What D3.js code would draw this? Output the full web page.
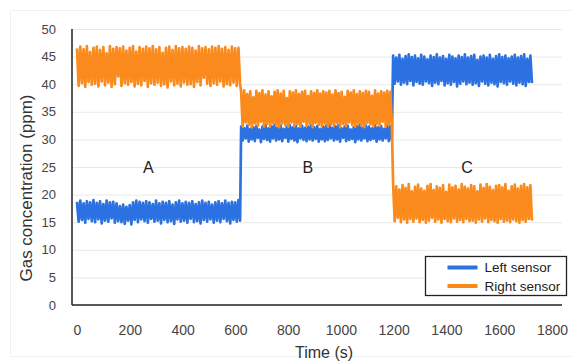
<!DOCTYPE html>
<html>
<head>
<meta charset="utf-8">
<script src="https://cdn.jsdelivr.net/npm/d3@7/dist/d3.min.js"></script>
<style>
html,body{margin:0;padding:0;background:#fff;}
svg{display:block;font-family:"Liberation Sans",Arial,sans-serif;}
</style>
</head>
<body>
<svg id="chart" width="572" height="362"></svg>
<script>
// ---- data ----
const seriesNames = ["Left sensor", "Right sensor"];
const seriesColors = ["#2c71e1", "#fb8a1d"];
// phase boundaries (s): start, end of each phase
const phaseStart = [0, 622, 1198];
const phaseEnd = [618, 1193, 1724];
const phaseLabels = ["A", "B", "C"];
const phaseLabelTime = [270, 875, 1478];
const phaseLabelValue = 25;

const leftA = [
18.7,15.1,18.9,15.4,18.4,14.9,18.8,15.6,18.6,15.2,
19.0,15.0,18.5,15.5,18.8,14.8,18.3,15.3,18.9,15.1,
18.6,15.7,18.7,14.9,18.4,15.2,17.9,15.0,18.2,14.7,
17.8,15.3,18.1,14.6,18.6,15.4,18.9,15.0,18.7,15.5,
18.5,15.2,18.8,14.9,18.6,15.6,18.3,15.1,18.9,15.3,
18.4,14.8,18.7,15.4,18.5,15.0,18.8,15.2,18.2,14.7,
18.6,15.5,18.9,15.1,18.4,15.3,18.7,14.9,18.5,15.6,
18.8,15.0,18.3,15.2,18.6,14.8,18.9,15.4,18.5,15.1,
18.7,15.5,18.2,14.9,18.6,15.3,18.8,15.0,18.4,15.6,
18.9,15.2,18.5,14.8,18.7,15.4,18.6,15.1,19.0,15.3];
const leftB = [
32.3,29.8,32.0,30.2,32.5,29.6,31.9,30.0,32.2,29.7,
32.4,30.3,31.8,29.5,32.3,30.1,32.6,29.9,32.0,29.6,
32.4,30.2,32.7,29.8,32.1,30.0,32.5,29.7,31.9,30.3,
32.3,29.6,32.6,30.1,32.2,29.8,32.4,29.5,32.0,30.2,
32.5,29.9,32.1,29.7,32.3,30.0,32.6,29.8,32.2,30.1,
32.4,29.6,31.9,30.0,32.3,29.7,32.5,29.9,32.8,30.2,
32.1,29.8,32.4,30.0,32.6,29.6,32.0,30.3,32.3,29.7,
32.5,29.9,31.8,30.1,32.2,29.5,32.4,30.0,32.7,29.8,
32.1,30.2,32.5,29.7,32.3,29.9,32.0,30.1,32.6,29.6,
32.2,30.0,32.4,29.8,31.9,30.2,32.5,29.7,32.3,29.9];
const leftC = [
45.2,40.1,44.8,40.5,45.3,39.9,44.6,40.3,45.1,40.0,
45.4,40.6,44.9,39.8,45.2,40.4,44.7,40.1,45.3,39.9,
45.0,40.5,44.5,40.2,45.2,39.7,44.9,40.3,45.4,40.0,
44.8,40.6,45.1,39.8,44.6,40.2,45.3,39.9,45.0,40.4,
44.7,39.6,45.2,40.1,44.9,40.5,45.4,40.0,44.8,40.3,
45.1,39.9,45.3,40.2,44.4,39.7,45.0,40.5,45.2,40.1,
44.8,39.8,45.3,40.3,44.6,40.0,45.1,39.6,45.4,40.4,
44.9,40.2,45.2,39.9,44.7,40.5,45.0,40.1,45.3,39.8,
44.8,40.3,45.1,40.0,45.4,39.7,44.6,40.4,45.2,40.2];
const rightA = [
46.5,39.7,46.8,40.2,46.3,39.5,46.9,40.4,45.8,39.9,
46.6,40.1,46.8,39.6,46.2,40.5,46.7,39.8,45.6,40.3,
46.9,39.5,46.4,40.0,46.7,41.4,46.5,39.7,46.8,40.2,
46.1,39.9,46.6,40.4,46.9,39.6,45.9,40.1,46.7,39.8,
46.4,40.6,46.8,39.5,46.5,40.2,46.9,39.9,46.3,40.3,
46.7,39.7,45.7,40.0,46.6,39.4,46.8,40.5,46.2,39.8,
46.9,40.1,46.5,39.6,46.7,40.3,46.4,39.9,46.8,40.0,
46.6,39.5,46.1,40.4,46.9,39.8,46.5,41.2,46.7,40.1,
46.3,39.7,46.8,40.2,46.6,39.9,46.9,40.5,46.4,39.6,
46.7,40.0,46.2,39.8,46.8,40.3,46.5,39.7,46.6,40.1];
const rightB = [
38.6,32.4,38.9,33.1,38.2,32.6,38.7,32.2,37.6,32.9,
38.8,32.5,38.4,33.2,38.9,32.3,38.1,32.8,38.7,32.4,
37.8,33.0,38.6,32.5,38.9,32.2,38.3,32.9,38.8,32.6,
37.5,32.3,38.7,33.1,38.5,32.4,38.9,32.7,38.2,32.3,
38.6,33.2,38.8,32.5,37.9,32.8,38.7,32.2,38.4,33.0,
38.9,32.6,38.3,32.4,38.7,32.9,38.5,32.3,38.8,32.7,
38.1,32.5,38.9,33.0,38.4,32.2,38.6,32.8,37.7,32.4,
38.8,33.1,38.5,32.6,38.9,32.3,38.2,32.9,38.7,32.5,
38.4,32.2,38.8,33.0,38.6,32.7,37.9,32.4,38.9,32.8,
38.3,32.5,38.7,33.2,38.5,32.3,38.8,32.6,38.6,32.9];
const rightC = [
21.8,15.2,21.5,15.8,20.9,15.0,21.7,15.5,21.2,14.9,
21.9,15.6,20.6,15.1,21.4,15.7,21.8,15.0,21.1,15.4,
20.7,14.9,21.6,15.3,21.9,15.8,20.8,15.1,21.5,15.5,
21.2,14.9,21.7,15.6,20.5,15.2,21.8,15.0,21.3,15.7,
21.6,15.1,20.9,15.4,21.9,15.0,21.4,15.6,21.1,15.2,
21.7,15.3,21.5,14.9,20.6,15.5,21.8,15.1,21.2,15.7,
21.9,15.0,21.4,15.4,20.8,15.2,21.6,14.9,21.7,15.6,
21.3,15.1,21.9,15.3,20.7,15.0,21.5,15.5,21.8,15.2,
21.1,14.9,21.6,15.4,21.9,15.1,21.3,15.6,21.7,15.3];

const xTicks = [0,200,400,600,800,1000,1200,1400,1600,1800];
const yTicks = [0,5,10,15,20,25,30,35,40,45,50];
const xTitle = "Time (s)";
const yTitle = "Gas concentration (ppm)";

// ---- build series ----
function buildSeries(segments){
  const pts = [];
  segments.forEach((vals, k) => {
    const n = vals.length;
    vals.forEach((v, i) => {
      pts.push({t: phaseStart[k] + (phaseEnd[k]-phaseStart[k]) * i/(n-1), v: v});
    });
  });
  return pts;
}
const series = [buildSeries([leftA,leftB,leftC]), buildSeries([rightA,rightB,rightC])];

// ---- layout ----
const svg = d3.select("#chart");
const plotLeft = 72, plotRight = 562, plotTop = 29, plotBottom = 305;
const x = d3.scaleLinear().domain([0,1800]).range([77,552]);
const y = d3.scaleLinear().domain([0,50]).range([plotBottom, plotTop]);

// faint outer frame
svg.append("rect").attr("x",10.5).attr("y",10.5).attr("width",570).attr("height",346)
  .attr("fill","none").attr("stroke","#f1f1f1");

// gridlines
svg.append("g").selectAll("line").data(yTicks.filter(d=>d>0)).join("line")
  .attr("x1",plotLeft).attr("x2",plotRight)
  .attr("y1",d=>y(d)+0.5).attr("y2",d=>y(d)+0.5)
  .attr("stroke","#e9e9e9").attr("stroke-width",1);

// y tick labels (axis)
const yAxis = d3.axisLeft(y).tickValues(yTicks).tickSize(0).tickPadding(0).tickFormat(d3.format("d"));
const gy = svg.append("g").attr("transform",`translate(56,0)`).call(yAxis);
gy.select(".domain").remove();
gy.selectAll("text").attr("font-size",13).attr("fill","#444").attr("font-family","Liberation Sans, Arial, sans-serif");

// x tick labels (axis)
const xAxis = d3.axisBottom(x).tickValues(xTicks).tickSize(0).tickPadding(0).tickFormat(d3.format("d"));
const gx = svg.append("g").attr("transform",`translate(0,325)`).call(xAxis);
gx.select(".domain").remove();
gx.selectAll("text").attr("font-size",14).attr("fill","#444").attr("font-family","Liberation Sans, Arial, sans-serif");

// series lines
const line = d3.line().x(d=>x(d.t)).y(d=>y(d.v));
series.forEach((s,i)=>{
  svg.append("path").datum(s).attr("d",line)
    .attr("fill","none").attr("stroke",seriesColors[i])
    .attr("stroke-width",2.7).attr("stroke-linejoin","round");
});

// axis lines
svg.append("line").attr("x1",plotLeft).attr("x2",plotLeft).attr("y1",plotTop).attr("y2",plotBottom)
  .attr("stroke","#222").attr("stroke-width",1.5);
svg.append("line").attr("x1",plotLeft).attr("x2",plotRight).attr("y1",plotBottom).attr("y2",plotBottom)
  .attr("stroke","#222").attr("stroke-width",1.5);

// phase labels
svg.append("g").selectAll("text").data(phaseLabels).join("text")
  .attr("x",(d,i)=>x(phaseLabelTime[i])).attr("y",y(phaseLabelValue)).attr("dy","0.35em")
  .attr("text-anchor","middle").attr("font-size",16).attr("fill","#222").text(d=>d);

// axis titles
svg.append("text").attr("x",(plotLeft+plotRight)/2+7).attr("y",358)
  .attr("text-anchor","middle").attr("font-size",16).attr("fill","#333").text(xTitle);
svg.append("text").attr("transform",`translate(32,188) rotate(-90)`)
  .attr("text-anchor","middle").attr("font-size",17).attr("fill","#333").text(yTitle);

// legend
const lg = svg.append("g").attr("transform","translate(425.5,256.5)");
lg.append("rect").attr("width",141).attr("height",39).attr("fill","#fff").attr("stroke","#222").attr("stroke-width",1.3);
seriesNames.forEach((n,i)=>{
  const yy = 11 + i*18.5;
  lg.append("line").attr("x1",22).attr("x2",52).attr("y1",yy).attr("y2",yy)
    .attr("stroke",seriesColors[i]).attr("stroke-width",4);
  lg.append("text").attr("x",59).attr("y",yy).attr("dy","0.35em")
    .attr("font-size",13.5).attr("fill","#222").text(n);
});
</script>
</body>
</html>
